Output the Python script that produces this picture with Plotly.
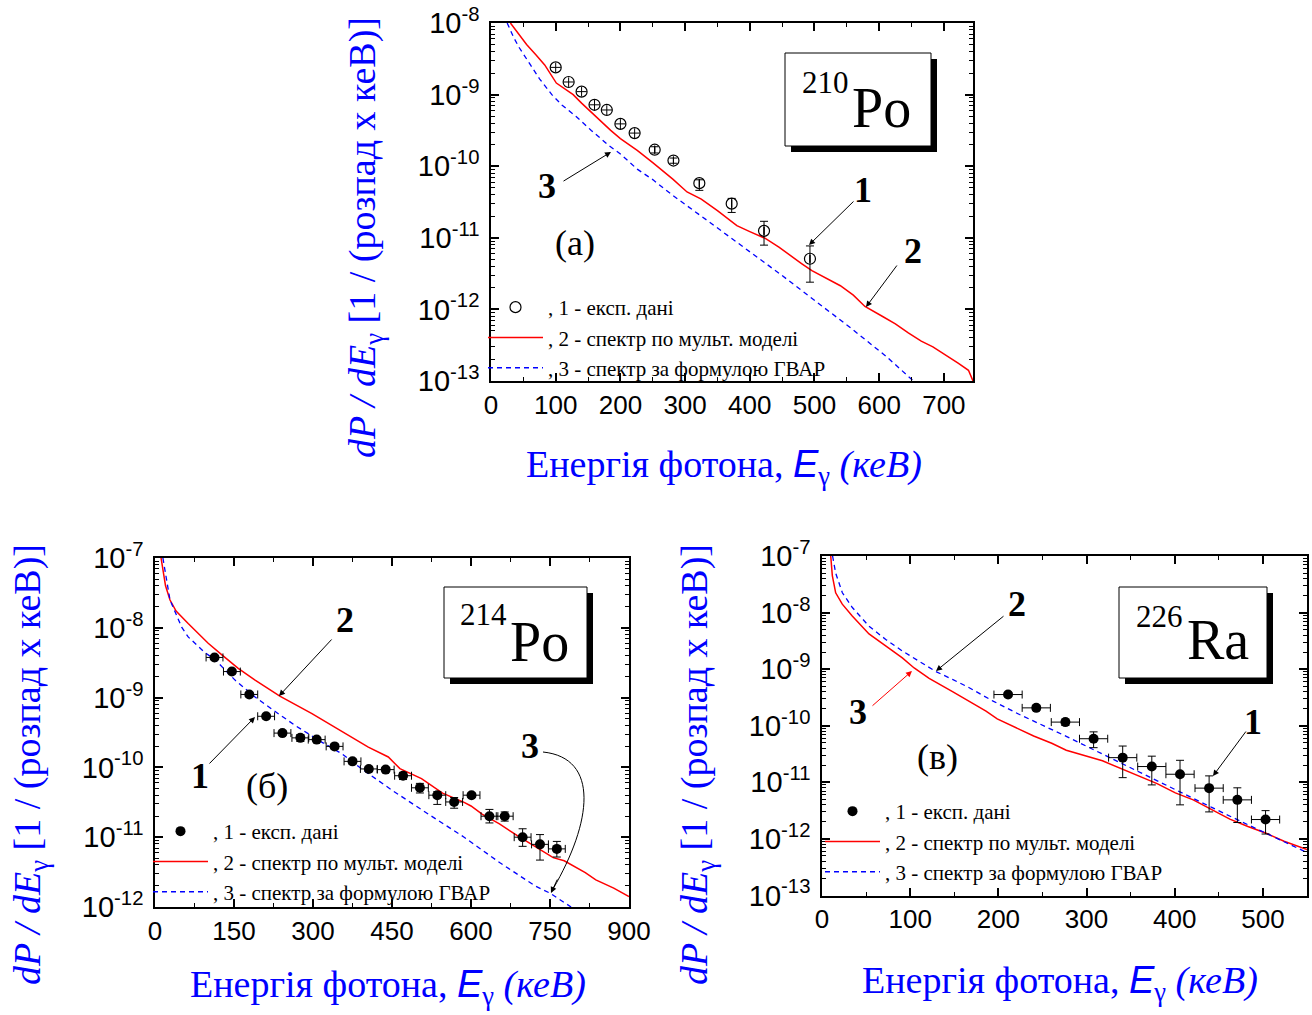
import plotly.graph_objects as go

W, H = 1312, 1015

# ---------------- data: 210Po (a) ----------------
po210_exp_E = [100, 120, 140, 160, 179, 200, 222, 253, 282, 322, 372, 422, 493]
po210_exp_y = [2.4e-9, 1.5e-9, 1.1e-9, 7.2e-10, 6.1e-10, 3.9e-10, 2.9e-10,
               1.7e-10, 1.2e-10, 5.8e-11, 3.0e-11, 1.25e-11, 5.1e-12]
po210_exp_err_hi = [3.8e-10, 2.4e-10, 1.8e-10, 1.2e-10, 1.0e-10, 6.5e-11, 4.8e-11,
                    1.7e-11, 1.0e-11, 6.6e-12, 5.5e-12, 4.5e-12, 2.6e-12]
po210_exp_err_lo = [3.6e-10, 2.2e-10, 1.6e-10, 1.1e-10, 0.9e-10, 6.0e-11, 4.4e-11,
                    1.7e-11, 1.0e-11, 1.2e-11, 7.4e-12, 4.6e-12, 2.7e-12]
po210_exp_xerr = [8, 8, 8, 8, 8, 8, 8, 0, 0, 0, 0, 0, 0]

po210_model_E = [30, 40, 55, 70, 83, 101, 115, 127, 140, 154, 170, 185, 200, 226, 250,
                 281, 303, 325, 350, 380, 400, 424, 445, 463, 480, 496, 520, 540, 560,
                 578, 606, 625, 645, 665, 683, 700, 722, 738, 745]
po210_model_y = [1.0e-8, 7.6e-9, 5.0e-9, 3.55e-9, 2.6e-9, 1.45e-9, 1.17e-9, 1.0e-9,
                 7.6e-10, 5.75e-10, 4.27e-10, 3.16e-10, 2.43e-10, 1.66e-10, 1.12e-10,
                 6.6e-11, 4.37e-11, 3.47e-11, 2.4e-11, 1.48e-11, 1.22e-11, 9.8e-12,
                 7.4e-12, 5.6e-12, 4.37e-12, 3.47e-12, 2.7e-12, 2.14e-12, 1.58e-12,
                 1.1e-12, 7.9e-13, 6.3e-13, 4.7e-13, 3.6e-13, 3.0e-13, 2.4e-13,
                 1.78e-13, 1.41e-13, 1.0e-13]
po210_gvar_E = [25, 35, 44, 52, 61, 75, 94, 110, 132, 155, 182, 200, 226, 250, 281,
                336, 391, 446, 501, 556, 611, 653]
po210_gvar_y = [1.0e-8, 6.3e-9, 4.47e-9, 3.4e-9, 2.6e-9, 1.66e-9, 1.0e-9, 7.1e-10,
                4.9e-10, 3.16e-10, 1.95e-10, 1.48e-10, 9.1e-11, 6.5e-11, 3.9e-11,
                1.7e-11, 7.4e-12, 3.16e-12, 1.32e-12, 5.5e-13, 2.2e-13, 1.0e-13]

# ---------------- data: 214Po (б) ----------------
po214_exp_E = [113, 146, 179, 211, 242, 276, 307, 341, 375, 406, 438, 471, 503, 536,
               568, 601, 635, 664, 698, 731, 763]
po214_exp_y = [3.76e-9, 2.36e-9, 1.11e-9, 5.4e-10, 3.1e-10, 2.65e-10, 2.5e-10, 2.0e-10,
               1.22e-10, 9.5e-11, 9.3e-11, 7.6e-11, 5.1e-11, 4.0e-11, 3.2e-11, 4.0e-11,
               2.0e-11, 2.0e-11, 1.0e-11, 7.9e-12, 6.8e-12]
po214_exp_err_hi = [2.5e-10, 1.6e-10, 8e-11, 4e-11, 2.2e-11, 3.0e-11, 1.8e-11, 1.6e-11,
                    1.0e-11, 8e-12, 7e-12, 9e-12, 8e-12, 5e-12, 5e-12, 3e-12, 5e-12,
                    3e-12, 3.2e-12, 3.0e-12, 1.9e-12]
po214_exp_err_lo = [2.5e-10, 1.6e-10, 8e-11, 4e-11, 2.2e-11, 3.0e-11, 1.8e-11, 1.6e-11,
                    1.0e-11, 8e-12, 7e-12, 9e-12, 8e-12, 1.05e-11, 6e-12, 3e-12, 4e-12,
                    3e-12, 2.6e-12, 3.2e-12, 1.6e-12]
po214_exp_xerr = [16] * 21

po214_model_E = [11.5, 15, 20, 28.5, 40, 63, 101, 127, 158, 190, 237, 298, 345, 405,
                 443, 465, 506, 546, 587, 600, 621, 654, 688, 722, 756, 777, 817, 837,
                 871, 900]
po214_model_y = [1.0e-7, 6.8e-8, 4.0e-8, 2.5e-8, 1.74e-8, 1.15e-8, 6.0e-9, 4.1e-9,
                 2.63e-9, 1.78e-9, 1.05e-9, 5.9e-10, 3.63e-10, 1.95e-10, 1.41e-10,
                 9.6e-11, 6.9e-11, 4.27e-11, 3.16e-11, 2.8e-11, 2.14e-11, 1.55e-11,
                 1.05e-11, 7.4e-12, 5.1e-12, 4.6e-12, 3.1e-12, 2.45e-12, 1.86e-12,
                 1.41e-12]
po214_gvar_E = [15, 21.7, 28.5, 50.6, 63, 95, 114.5, 152, 190, 221, 266, 316.5, 354,
                397, 452, 519, 587, 655, 722, 750, 790]
po214_gvar_y = [1.0e-7, 4.9e-8, 2.5e-8, 1.02e-8, 7.4e-9, 4.4e-9, 3.47e-9, 1.78e-9,
                1.02e-9, 6.9e-10, 4.0e-10, 2.3e-10, 1.58e-10, 9.0e-11, 4.6e-11,
                2.14e-11, 1.0e-11, 4.3e-12, 2.0e-12, 1.58e-12, 1.0e-12]

# ---------------- data: 226Ra (в) ----------------
ra226_exp_E = [211, 243, 276, 308, 341, 374, 406, 439, 471, 503]
ra226_exp_y = [3.56e-10, 2.07e-10, 1.16e-10, 5.9e-11, 2.73e-11, 1.9e-11, 1.39e-11,
               7.9e-12, 4.9e-12, 2.2e-12]
ra226_exp_err_hi = [3.0e-11, 2.0e-11, 1.5e-11, 1.9e-11, 1.65e-11, 1.0e-11, 1.06e-11,
                    5.1e-12, 3.1e-12, 0.96e-12]
ra226_exp_err_lo = [3.0e-11, 2.0e-11, 1.5e-11, 1.8e-11, 1.52e-11, 1.0e-11, 0.99e-11,
                    4.9e-12, 2.95e-12, 0.98e-12]
ra226_exp_xerr = [16] * 10

ra226_model_E = [9.9, 11.7, 15.5, 23, 34.3, 53.3, 72.2, 91.1, 104.5, 121.5, 148, 161.6,
                 186, 198.7, 219, 240, 260.5, 277, 318, 339, 359.4, 380, 400.7, 421,
                 442, 462.5, 483, 503.7, 524, 545, 550]
ra226_model_y = [1.0e-7, 4.5e-8, 2.24e-8, 1.41e-8, 8.7e-9, 4.2e-9, 2.57e-9, 1.58e-9,
                 1.05e-9, 6.9e-10, 4.0e-10, 3.0e-10, 1.82e-10, 1.32e-10, 9.3e-11,
                 6.6e-11, 4.9e-11, 3.7e-11, 2.4e-11, 1.74e-11, 1.26e-11, 9.5e-12,
                 6.5e-12, 4.9e-12, 3.3e-12, 2.24e-12, 1.66e-12, 1.26e-12, 9.1e-13,
                 6.9e-13, 6.5e-13]
ra226_gvar_E = [12, 15.5, 23.1, 34.4, 53.3, 72.3, 91.2, 110, 129, 148, 167, 193.5, 224,
                277, 318, 359, 400, 442, 483, 524, 550]
ra226_gvar_y = [1.0e-7, 5.0e-8, 2.24e-8, 1.23e-8, 5.75e-9, 3.35e-9, 2.09e-9, 1.38e-9,
                9.1e-10, 6.6e-10, 4.7e-10, 2.75e-10, 1.58e-10, 6.5e-11, 3.16e-11,
                1.51e-11, 7.4e-12, 3.6e-12, 1.78e-12, 8.9e-13, 5.75e-13]

legend_names = [", 1 - експ. дані", ", 2 - спектр по мульт. моделі",
                ", 3 - спектр за формулою ГВАР"]

# ---------------- styling helpers ----------------
SERIF = "Liberation Serif"
SANS = "Liberation Sans"
RED = "#ff0000"
BLUE = "#0000ff"


def px(x, y):
    return x / W, 1 - y / H


fig = go.Figure()


def add_panel(n, exp_E, exp_y, hi, lo, xerr, mE, my, gE, gy, open_marker, split=0):
    xa = "x" if n == 1 else f"x{n}"
    ya = "y" if n == 1 else f"y{n}"
    lg = "legend" if n == 1 else f"legend{n}"
    fig.add_trace(go.Scatter(x=mE, y=my, mode="lines", name=legend_names[1],
                             line=dict(color=RED, width=1.5), xaxis=xa, yaxis=ya,
                             legend=lg, legendrank=2))
    fig.add_trace(go.Scatter(x=gE, y=gy, mode="lines", name=legend_names[2],
                             line=dict(color=BLUE, width=1.3, dash="5px,4px"),
                             xaxis=xa, yaxis=ya, legend=lg, legendrank=3))
    if open_marker:
        marker = dict(symbol="circle-open", size=11, color="black", line=dict(width=1.2))
    else:
        marker = dict(symbol="circle", size=10, color="black")
    if split:
        # points whose error bars lie inside the marker
        fig.add_trace(go.Scatter(
            x=exp_E[:split], y=exp_y[:split], mode="markers", marker=marker,
            error_y=dict(type="data", array=hi[:split], arrayminus=lo[:split],
                         color="black", thickness=1, width=0),
            error_x=dict(type="data", array=xerr[:split], color="black",
                         thickness=1, width=0),
            xaxis=xa, yaxis=ya, legend=lg, showlegend=False))
    fig.add_trace(go.Scatter(
        x=exp_E[split:], y=exp_y[split:], mode="markers", name=legend_names[0],
        marker=marker,
        error_y=dict(type="data", array=hi[split:], arrayminus=lo[split:],
                     color="black", thickness=1, width=4),
        error_x=dict(type="data", array=xerr[split:], color="black", thickness=1,
                     width=4),
        xaxis=xa, yaxis=ya, legend=lg, legendrank=1))


add_panel(1, po210_exp_E, po210_exp_y, po210_exp_err_hi, po210_exp_err_lo,
          po210_exp_xerr, po210_model_E, po210_model_y, po210_gvar_E, po210_gvar_y,
          True, split=7)
add_panel(2, po214_exp_E, po214_exp_y, po214_exp_err_hi, po214_exp_err_lo,
          po214_exp_xerr, po214_model_E, po214_model_y, po214_gvar_E, po214_gvar_y,
          False)
add_panel(3, ra226_exp_E, ra226_exp_y, ra226_exp_err_hi, ra226_exp_err_lo,
          ra226_exp_xerr, ra226_model_E, ra226_model_y, ra226_gvar_E, ra226_gvar_y,
          False)


def log_axis(lo_exp, hi_exp, dom, anchor):
    vals = [10.0 ** k for k in range(lo_exp, hi_exp + 1)]
    txt = [f"10<sup>{k}</sup>" for k in range(lo_exp, hi_exp + 1)]
    minor_vals = [d * 10.0 ** k for k in range(lo_exp, hi_exp) for d in range(2, 10)]
    return dict(type="log", range=[lo_exp, hi_exp], domain=dom, anchor=anchor,
                tickmode="array", tickvals=vals, ticktext=txt, automargin=False,
                showline=True, linecolor="black", linewidth=1.5, mirror="ticks",
                ticks="inside", ticklen=8, tickwidth=1.5, tickcolor="black",
                tickfont=dict(family=SANS, size=29, color="black"),
                ticklabelstandoff=4,
                showgrid=False, zeroline=False,
                minor=dict(tickmode="array", tickvals=minor_vals, ticks="inside",
                           ticklen=4, tickwidth=1, tickcolor="black", showgrid=False))


def lin_axis(rng, dtick, mdtick, dom, anchor):
    return dict(range=rng, domain=dom, anchor=anchor, tick0=0, dtick=dtick,
                automargin=False,
                showline=True, linecolor="black", linewidth=1.5, mirror="ticks",
                ticks="inside", ticklen=8, tickwidth=1.5, tickcolor="black",
                tickfont=dict(family=SANS, size=26, color="black"),
                showgrid=False, zeroline=False,
                minor=dict(tick0=0, dtick=mdtick, ticks="inside", ticklen=4,
                           tickwidth=1, tickcolor="black", showgrid=False))


# plot-area boxes (pixels)
A = (491, 973, 23, 381)
B = (155, 629, 558, 907)
C = (822, 1307, 556, 895.5)


def dx(b):
    return [b[0] / W, b[1] / W]


def dy(b):
    return [1 - b[3] / H, 1 - b[2] / H]


legend_common = dict(font=dict(family=SERIF, size=21, color="black"),
                     bgcolor="rgba(0,0,0,0)", itemwidth=55, xanchor="left",
                     yanchor="top", tracegroupgap=0, itemclick=False)

lx1, ly1 = px(483, 287)
lx2, ly2 = px(148, 811)
lx3, ly3 = px(820, 791)

fig.update_layout(
    width=W, height=H, margin=dict(l=0, r=0, t=0, b=0, pad=0, autoexpand=False),
    paper_bgcolor="white", plot_bgcolor="white",
    xaxis=lin_axis([0, 745], 100, 50, dx(A), "y"),
    yaxis=log_axis(-13, -8, dy(A), "x"),
    xaxis2=lin_axis([0, 900], 150, 75, dx(B), "y2"),
    yaxis2=log_axis(-12, -7, dy(B), "x2"),
    xaxis3=lin_axis([0, 550], 100, 50, dx(C), "y3"),
    yaxis3=log_axis(-13, -7, dy(C), "x3"),
    legend=dict(x=lx1, y=ly1, **legend_common),
    legend2=dict(x=lx2, y=ly2, **legend_common),
    legend3=dict(x=lx3, y=ly3, **legend_common),
)

annotations = []
shapes = []


def text(x, y, t, size, color="black", family=SERIF, angle=0, xanchor="center",
         yanchor="middle"):
    xp, yp = px(x, y)
    annotations.append(dict(x=xp, y=yp, xref="paper", yref="paper", text=t,
                            showarrow=False, textangle=angle, xanchor=xanchor,
                            yanchor=yanchor,
                            font=dict(family=family, size=size, color=color)))


def arrow(x0, y0, x1, y1, color="black"):
    xp, yp = px(x1, y1)
    annotations.append(dict(x=xp, y=yp, xref="paper", yref="paper", text="",
                            showarrow=True, axref="pixel", ayref="pixel",
                            ax=x0 - x1, ay=y0 - y1, arrowhead=2, arrowsize=1.2,
                            arrowwidth=1, arrowcolor=color, standoff=0,
                            startstandoff=0))


# axis titles
ytitle = ("<i>dP / dE</i><sub>γ</sub> [1 / (розпад x кеВ)]")
xtitle = ("Енергія фотона, <span style='font-family:Liberation Sans'><i>E</i></span>"
          "<sub>γ</sub> <i>(кеВ)</i>")
text(365, 238, ytitle, 38, BLUE, angle=-90)
text(30, 765, ytitle, 38, BLUE, angle=-90)
text(697, 765, ytitle, 38, BLUE, angle=-90)
text(724, 467, xtitle, 38, BLUE)
text(388, 987, xtitle, 38, BLUE)
text(1060, 983, xtitle, 38, BLUE)

# panel labels
text(575, 243, "(a)", 36)
text(267, 786, "(б)", 36)
text(937, 757, "(в)", 36)

# numbered labels with arrows
text(547, 186, "<b>3</b>", 36)
arrow(562, 182, 611, 152)
text(863, 190, "<b>1</b>", 36)
arrow(855, 200, 809, 245)
text(913, 251, "<b>2</b>", 36)
arrow(898, 264, 866, 307)

text(345, 620, "<b>2</b>", 36)
arrow(333, 638, 279, 696)
text(200, 776, "<b>1</b>", 36)
arrow(208, 765, 255, 717)
text(530, 746, "<b>3</b>", 36)
arrow(558, 878, 551, 893)

text(1017, 604, "<b>2</b>", 36)
arrow(1005, 615, 936, 671)
text(858, 712, "<b>3</b>", 36)
arrow(871, 707, 912, 671, RED)
text(1253, 722, "<b>1</b>", 36)
arrow(1247, 730, 1213, 776)

# curved pointer for "3" in panel (б)
p0 = px(543, 752)
c1 = px(600, 758)
c2 = px(592, 822)
p1 = px(553, 889)
shapes.append(dict(type="path", xref="paper", yref="paper",
                   path=f"M {p0[0]},{p0[1]} C {c1[0]},{c1[1]} {c2[0]},{c2[1]} {p1[0]},{p1[1]}",
                   line=dict(color="black", width=1)))


# isotope boxes with shadow
def box(x0, y0, x1, y1, sup, sym, sx, sy, tx, ty):
    a0 = px(x0 + 6, y0 + 6)
    a1 = px(x1 + 6, y1 + 6)
    shapes.append(dict(type="rect", xref="paper", yref="paper", x0=a0[0], y0=a0[1],
                       x1=a1[0], y1=a1[1], fillcolor="black", line=dict(width=0)))
    b0 = px(x0, y0)
    b1 = px(x1, y1)
    shapes.append(dict(type="rect", xref="paper", yref="paper", x0=b0[0], y0=b0[1],
                       x1=b1[0], y1=b1[1], fillcolor="white",
                       line=dict(color="black", width=1)))
    text(sx, sy, sup, 31, xanchor="left")
    text(tx, ty, sym, 56, xanchor="left")


box(785, 53, 931, 146, "210", "Po", 800, 83, 850, 108)
box(444, 587, 587, 678, "214", "Po", 458, 614, 508, 642)
box(1119, 587, 1267, 678, "226", "Ra", 1134, 616, 1185, 640)

fig.update_layout(annotations=annotations, shapes=shapes)
fig.write_html("out.html")
